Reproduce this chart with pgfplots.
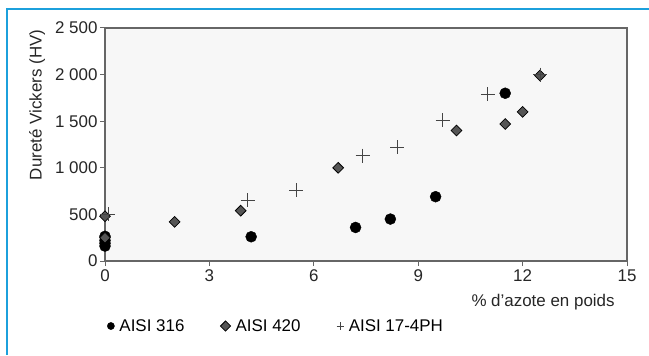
\documentclass[border=0pt]{standalone}
\usepackage{pgfplots}
\pgfplotsset{compat=1.18}
\usepackage{fontspec}
\setmainfont{Liberation Sans}
\definecolor{frameblue}{HTML}{1CA0DC}
\definecolor{axgray}{HTML}{666666}
\definecolor{bggray}{HTML}{F7F7F7}
\definecolor{diagray}{HTML}{555555}
\definecolor{plusgray}{HTML}{444444}
\begin{document}
\begin{tikzpicture}[x=1bp,y=1bp]
\useasboundingbox (0,0) rectangle (649,355);
\draw[frameblue, line width=1.5bp] (7,0) -- (7,346) -- (649,346);
\begin{axis}[
  at={(105bp,94bp)}, anchor=south west,
  scale only axis, width=522bp, height=233bp,
  xmin=0, xmax=15, ymin=0, ymax=2500,
  xtick={0,3,6,9,12,15}, ytick={0,500,1000,1500,2000,2500},
  axis background/.style={fill=bggray},
  axis line style={axgray, line width=1.2bp},
  tick style={axgray, line width=1bp},
  tick align=outside, major tick length=5bp,
  xtick pos=bottom, ytick pos=left,
  /pgf/number format/1000 sep={\ },
  /pgf/number format/assume math mode=true,
  ticklabel style={font=\fontsize{17}{20}\selectfont, text=black!85},
  yticklabel style={xshift=1bp},
  clip=false,
  legend columns=3,
  legend style={draw=none, fill=none, at={(0.004,-0.279)}, anchor=west,
    font=\fontsize{17}{20}\selectfont, inner xsep=0pt,
    /tikz/every odd column/.append style={column sep=3bp},
    /tikz/every even column/.append style={column sep=34bp}},
  legend cell align=left,
  legend image code/.code={\draw[#1, mark size=3.6bp] plot coordinates {(0cm,0cm)};},
]
\addplot[only marks, mark=*, mark size=5.5bp, black, mark options={fill=black}] coordinates {
(0,160) (0,190) (0,220) (0,265) (4.2,260) (7.2,360) (8.2,450) (9.5,690) (11.5,1800)
};
\addlegendentry{AISI 316}
\addplot[only marks, mark=square*, mark size=3.8bp, black, mark options={fill=diagray, line width=0.8bp, rotate=45}] coordinates {
(0,480) (0,250) (2.0,420) (3.9,540) (6.7,1000) (10.1,1400) (11.5,1470) (12.0,1600) (12.5,1990)
};
\addlegendentry{AISI 420}
\addplot[only marks, mark=+, mark size=7bp, plusgray, mark options={line width=0.9bp}] coordinates {
(0.1,500) (4.1,650) (5.5,760) (7.4,1130) (8.4,1220) (9.7,1510) (11.0,1790) (12.5,2000)
};
\addlegendentry{AISI 17-4PH}
\node[rotate=90, font=\fontsize{17}{20}\selectfont, text=black!85] at (axis description cs:-0.13,0.67) {Dureté Vickers (HV)};
\node[anchor=east, font=\fontsize{17}{20}\selectfont, text=black!85] at (axis description cs:0.983,-0.176) {\% d’azote en poids};
\end{axis}
\end{tikzpicture}
\end{document}
